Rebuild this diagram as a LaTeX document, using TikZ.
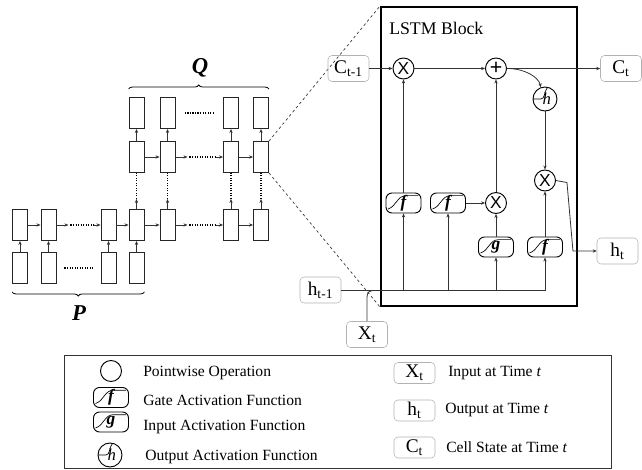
\documentclass[tikz,border=0pt]{standalone}
\usepackage{fontspec}
\setmainfont{Liberation Serif}
\setsansfont{Liberation Sans}
\usetikzlibrary{arrows.meta,decorations.pathreplacing}
\tikzset{
  font={\rmfamily\fontsize{11.7}{14}\selectfont},
  cell/.style={draw=black!85, line width=0.7pt, minimum width=11.25pt, minimum height=23.25pt, inner sep=0pt},
  vbox/.style={draw=black!30, rounded corners=3pt, minimum width=30.75pt, minimum height=19.5pt, inner sep=0pt, font={\rmfamily\fontsize{14.5}{16}\selectfont}},
  op/.style={circle, draw, line width=0.7pt, minimum size=15.75pt, inner sep=0pt, font={\sffamily\fontsize{13}{13}\selectfont}},
  gate/.style={draw, line width=0.7pt, rounded corners=4.5pt, minimum width=26.25pt, minimum height=15pt, inner sep=0pt,
    font={\rmfamily\bfseries\itshape\fontsize{13}{13}\selectfont},
    path picture={\draw[line width=0.5pt, sharp corners]
      ([shift={(1.5pt,3pt)}]path picture bounding box.south west)
      .. controls ([shift={(8pt,5pt)}]path picture bounding box.south west) and ([shift={(-5pt,-2pt)}]path picture bounding box.north)
      .. ([shift={(2pt,-2pt)}]path picture bounding box.north) -- ([shift={(-2pt,-2pt)}]path picture bounding box.north east);}},
  hact/.style={circle, draw, line width=0.7pt, minimum size=18pt, inner sep=0pt, font={\rmfamily\itshape\fontsize{12.5}{12.5}\selectfont},
    path picture={\draw[line width=0.5pt]
      ([xshift=-9pt]path picture bounding box.center) -- ([xshift=-3pt]path picture bounding box.center)
      .. controls ([xshift=0pt]path picture bounding box.center) and ([shift={(-1pt,5pt)}]path picture bounding box.center)
      .. ([shift={(2pt,9pt)}]path picture bounding box.center);}},
  arr/.style={-{Stealth[length=3pt,width=2.5pt]}, line width=0.6pt, draw=black!80},
  line/.style={line width=0.6pt, draw=black!80},
  dots/.style={densely dotted, line width=0.9pt},
  zoomline/.style={dash pattern=on 2pt off 2pt, line width=0.5pt, draw=black!80},
  brace/.style={decorate, decoration={brace, amplitude=3pt}, line width=0.6pt},
  txt/.style={anchor=west, inner sep=0pt}}

\begin{document}
\begin{tikzpicture}[x=0.75pt, y=-0.75pt]
\useasboundingbox (0,0) rectangle (642,470);

\node[cell] (x1) at (20,268) {};
\node[cell] (x2) at (48.5,268) {};
\node[cell] (x3) at (108.5,268) {};
\node[cell] (x4) at (136.5,268) {};
\node[cell] (a1) at (20,225) {};
\node[cell] (a2) at (48.5,225) {};
\node[cell] (a3) at (108.5,225) {};
\node[cell] (a4) at (136.5,225) {};
\node[cell] (a5) at (167.5,225) {};
\node[cell] (a6) at (231,225) {};
\node[cell] (a7) at (261,225) {};
\node[cell] (b1) at (136.5,157) {};
\node[cell] (b2) at (167.5,157) {};
\node[cell] (b3) at (231,157) {};
\node[cell] (b4) at (261,157) {};
\node[cell] (q1) at (136.5,113) {};
\node[cell] (q2) at (167.5,113) {};
\node[cell] (q3) at (231,113) {};
\node[cell] (q4) at (261,113) {};

\draw[arr] (x1) -- (a1);
\draw[arr] (x2) -- (a2);
\draw[arr] (x3) -- (a3);
\draw[arr] (x4) -- (a4);
\draw[arr] (a1) -- (a2);
\draw[arr] (a3) -- (a4);
\draw[arr] (a4) -- (a5);
\draw[arr] (a6) -- (a7);
\draw[arr] (b1) -- (b2);
\draw[arr] (b3) -- (b4);
\draw[arr] (b1) -- (q1);
\draw[arr] (b2) -- (q2);
\draw[arr] (b3) -- (q3);
\draw[arr] (b4) -- (q4);

\draw[arr] (a2.east) -- ++(12,0) coordinate (a2d);
\draw[dots] ([xshift=1.5pt]a2d) -- ([xshift=-5pt]a3.west);
\draw[arr] ([xshift=-5pt]a3.west) -- (a3.west);
\draw[arr] (a5.east) -- ++(12,0) coordinate (a5d);
\draw[dots] ([xshift=1.5pt]a5d) -- ([xshift=-5pt]a6.west);
\draw[arr] ([xshift=-5pt]a6.west) -- (a6.west);
\draw[arr] (b2.east) -- ++(12,0) coordinate (b2d);
\draw[dots] ([xshift=1.5pt]b2d) -- ([xshift=-5pt]b3.west);
\draw[arr] ([xshift=-5pt]b3.west) -- (b3.west);

\draw[arr] (a4.north) -- ++(0,-10) coordinate (a4d);
\draw[dots] (a4d) -- (b1.south);
\draw[arr] (a5.north) -- ++(0,-10) coordinate (a5u);
\draw[dots] (a5u) -- (b2.south);
\draw[arr] (a6.north) -- ++(0,-10) coordinate (a6u);
\draw[dots] (a6u) -- (b3.south);
\draw[arr] (a7.north) -- ++(0,-10) coordinate (a7u);
\draw[dots] (a7u) -- (b4.south);

\draw[dots] ([xshift=6pt]x2.east) -- ([xshift=-6pt]x3.west);
\draw[dots] ([xshift=7pt]q2.east) -- ([xshift=-6pt]q3.west);

\draw[brace] ([yshift=6pt]q1.north west) -- ([yshift=6pt]q4.north east);
\draw[brace] ([yshift=-6pt]x4.south east) -- ([yshift=-6pt]x1.south west);
\node[font={\rmfamily\bfseries\itshape\fontsize{17}{17}\selectfont}] (lq) at (200,68) {Q};
\node[font={\rmfamily\bfseries\itshape\fontsize{17}{17}\selectfont}] (lp) at (79,313) {P};

\node[draw, line width=1.5pt, minimum width=147pt, minimum height=224.25pt, inner sep=0pt] (blk) at (479,156.5) {};
\node[txt, font={\rmfamily\fontsize{13.3}{15}\selectfont}] (title) at (389,28) {LSTM Block};

\draw[zoomline] (b4.north east) -- (blk.north west);
\draw[zoomline] (b4.south east) -- (blk.south west);

\node[vbox] (cin) at (348.5,68.5) {C\textsubscript{t-1}};
\node[op] (m1) at (403.5,68.5) {X};
\node[op, font={\sffamily\fontsize{16}{16}\selectfont}] (pl) at (496,68.5) {+};
\node[vbox] (cout) at (621,68.5) {C\textsubscript{t}};
\node[hact] (th) at (545,99) {\hspace{2.5pt}\raisebox{-2pt}{h}};
\node[op] (m3) at (545,180.5) {X};
\node[gate] (f1) at (403.5,203) {f};
\node[gate] (f2) at (448,203) {f};
\node[op] (m2) at (496,203) {X};
\node[gate] (g1) at (496,247) {g};
\node[gate] (f3) at (545,247) {f};
\node[vbox] (hout) at (617.5,251) {h\textsubscript{t}};
\node[vbox] (hin) at (320.5,290) {h\textsubscript{t-1}};
\node[vbox] (xin) at (367,334.5) {X\textsubscript{t}};

\draw[arr] (cin) -- (m1);
\draw[arr] (m1) -- (pl);
\draw[arr] (pl) -- (cout);
\draw[arr] (pl.east) .. controls +(18,0) and +(-2,-10) .. (th.110);
\draw[arr] (th) -- (m3);
\draw[arr] (f1) -- (m1);
\draw[arr] (f2) -- (m2);
\draw[arr] (m2) -- (pl);
\draw[arr] (g1) -- (m2);
\draw[arr] (f3) -- (m3);
\draw[arr] (m3.east) -- ++(11,2) -- ++(6,68.5) -- (hout.west);
\draw[arr] (hin.east) -| (f3.south);
\draw[arr] (hin.east -| f1.south) -- (f1.south);
\draw[arr] (hin.east -| f2.south) -- (f2.south);
\draw[arr] (hin.east -| g1.south) -- (g1.south);
\draw[line] (xin.north) -- ++(0,-24) .. controls +(0,-5) and +(-3,0) .. ++(6,-7);

\node[draw=black!80, line width=0.7pt, minimum width=410.25pt, minimum height=84.75pt, inner sep=0pt] (leg) at (337.5,411.5) {};
\node[op] (lop) at (111,371) {};
\node[gate] (lf) at (111,397.5) {f};
\node[gate] (lg) at (111,422) {g};
\node[hact] (lh) at (110,455) {\hspace{2.5pt}\raisebox{-2pt}{h}};
\node[txt] (tpo) at (143,373) {Pointwise Operation};
\node[txt] (tgf) at (143,400) {Gate Activation Function};
\node[txt] (tif) at (143,427) {Input Activation Function};
\node[txt] (tof) at (145,457) {Output Activation Function};
\node[vbox, minimum height=15.75pt] (lx) at (414.5,373) {X\textsubscript{t}};
\node[vbox, minimum height=15.75pt] (lht) at (414.5,410.5) {h\textsubscript{t}};
\node[vbox, minimum height=15.75pt] (lct) at (414.5,447.5) {C\textsubscript{t}};
\node[txt] (tin) at (448,373) {Input at Time \textit{t}};
\node[txt] (tout) at (445,410) {Output at Time \textit{t}};
\node[txt] (tcs) at (446,447) {Cell State at Time \textit{t}};
\end{tikzpicture}
\end{document}
